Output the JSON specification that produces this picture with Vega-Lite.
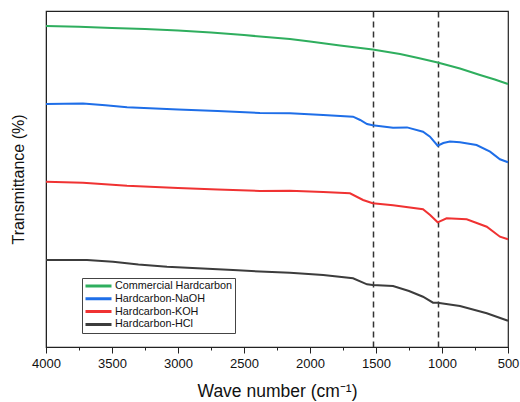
{
  "$schema": "https://vega.github.io/schema/vega-lite/v6.json",
  "width": 462,
  "height": 336,
  "autosize": {"type": "none"},
  "padding": {"left": 46, "top": 11, "right": 12, "bottom": 55},
  "view": {"stroke": "#222222", "strokeWidth": 1.2, "fill": "white"},
  "data": {"values": [
      {"wn": 4000, "t": 321, "s": "Commercial Hardcarbon"},
      {"wn": 3750, "t": 320.3, "s": "Commercial Hardcarbon"},
      {"wn": 3500, "t": 319, "s": "Commercial Hardcarbon"},
      {"wn": 3250, "t": 318, "s": "Commercial Hardcarbon"},
      {"wn": 3000, "t": 316.5, "s": "Commercial Hardcarbon"},
      {"wn": 2750, "t": 314.5, "s": "Commercial Hardcarbon"},
      {"wn": 2500, "t": 312, "s": "Commercial Hardcarbon"},
      {"wn": 2379, "t": 310.5, "s": "Commercial Hardcarbon"},
      {"wn": 2152, "t": 308, "s": "Commercial Hardcarbon"},
      {"wn": 2000, "t": 305.5, "s": "Commercial Hardcarbon"},
      {"wn": 1773, "t": 301.5, "s": "Commercial Hardcarbon"},
      {"wn": 1525, "t": 297.5, "s": "Commercial Hardcarbon"},
      {"wn": 1318, "t": 293, "s": "Commercial Hardcarbon"},
      {"wn": 1180, "t": 289, "s": "Commercial Hardcarbon"},
      {"wn": 1033, "t": 284.5, "s": "Commercial Hardcarbon"},
      {"wn": 864, "t": 278.5, "s": "Commercial Hardcarbon"},
      {"wn": 712, "t": 272, "s": "Commercial Hardcarbon"},
      {"wn": 600, "t": 267.5, "s": "Commercial Hardcarbon"},
      {"wn": 500, "t": 263, "s": "Commercial Hardcarbon"},

      {"wn": 4000, "t": 243, "s": "Hardcarbon-NaOH"},
      {"wn": 3720, "t": 243.5, "s": "Hardcarbon-NaOH"},
      {"wn": 3550, "t": 241.8, "s": "Hardcarbon-NaOH"},
      {"wn": 3386, "t": 239.7, "s": "Hardcarbon-NaOH"},
      {"wn": 3000, "t": 237.5, "s": "Hardcarbon-NaOH"},
      {"wn": 2700, "t": 236, "s": "Hardcarbon-NaOH"},
      {"wn": 2379, "t": 234, "s": "Hardcarbon-NaOH"},
      {"wn": 2152, "t": 233.7, "s": "Hardcarbon-NaOH"},
      {"wn": 1900, "t": 232, "s": "Hardcarbon-NaOH"},
      {"wn": 1674, "t": 230.3, "s": "Hardcarbon-NaOH"},
      {"wn": 1620, "t": 227, "s": "Hardcarbon-NaOH"},
      {"wn": 1568, "t": 223, "s": "Hardcarbon-NaOH"},
      {"wn": 1525, "t": 221.7, "s": "Hardcarbon-NaOH"},
      {"wn": 1371, "t": 219.3, "s": "Hardcarbon-NaOH"},
      {"wn": 1265, "t": 219.6, "s": "Hardcarbon-NaOH"},
      {"wn": 1144, "t": 215.3, "s": "Hardcarbon-NaOH"},
      {"wn": 1091, "t": 210.3, "s": "Hardcarbon-NaOH"},
      {"wn": 1033, "t": 201.3, "s": "Hardcarbon-NaOH"},
      {"wn": 990, "t": 204, "s": "Hardcarbon-NaOH"},
      {"wn": 940, "t": 205.5, "s": "Hardcarbon-NaOH"},
      {"wn": 864, "t": 204.7, "s": "Hardcarbon-NaOH"},
      {"wn": 738, "t": 202, "s": "Hardcarbon-NaOH"},
      {"wn": 636, "t": 195.3, "s": "Hardcarbon-NaOH"},
      {"wn": 561, "t": 187.7, "s": "Hardcarbon-NaOH"},
      {"wn": 500, "t": 184.7, "s": "Hardcarbon-NaOH"},

      {"wn": 4000, "t": 165.3, "s": "Hardcarbon-KOH"},
      {"wn": 3720, "t": 164.3, "s": "Hardcarbon-KOH"},
      {"wn": 3386, "t": 161.3, "s": "Hardcarbon-KOH"},
      {"wn": 3000, "t": 159, "s": "Hardcarbon-KOH"},
      {"wn": 2700, "t": 157.5, "s": "Hardcarbon-KOH"},
      {"wn": 2379, "t": 156, "s": "Hardcarbon-KOH"},
      {"wn": 2152, "t": 156.3, "s": "Hardcarbon-KOH"},
      {"wn": 1900, "t": 155, "s": "Hardcarbon-KOH"},
      {"wn": 1697, "t": 153.7, "s": "Hardcarbon-KOH"},
      {"wn": 1598, "t": 147, "s": "Hardcarbon-KOH"},
      {"wn": 1525, "t": 143.7, "s": "Hardcarbon-KOH"},
      {"wn": 1371, "t": 141.7, "s": "Hardcarbon-KOH"},
      {"wn": 1144, "t": 137.7, "s": "Hardcarbon-KOH"},
      {"wn": 1090, "t": 132, "s": "Hardcarbon-KOH"},
      {"wn": 1033, "t": 124.7, "s": "Hardcarbon-KOH"},
      {"wn": 965, "t": 128.7, "s": "Hardcarbon-KOH"},
      {"wn": 813, "t": 127.7, "s": "Hardcarbon-KOH"},
      {"wn": 661, "t": 120.3, "s": "Hardcarbon-KOH"},
      {"wn": 561, "t": 110.3, "s": "Hardcarbon-KOH"},
      {"wn": 500, "t": 107.7, "s": "Hardcarbon-KOH"},

      {"wn": 4000, "t": 87, "s": "Hardcarbon-HCl"},
      {"wn": 3689, "t": 87, "s": "Hardcarbon-HCl"},
      {"wn": 3492, "t": 85.3, "s": "Hardcarbon-HCl"},
      {"wn": 3300, "t": 82.5, "s": "Hardcarbon-HCl"},
      {"wn": 3083, "t": 80.3, "s": "Hardcarbon-HCl"},
      {"wn": 2583, "t": 77, "s": "Hardcarbon-HCl"},
      {"wn": 2379, "t": 75.5, "s": "Hardcarbon-HCl"},
      {"wn": 2152, "t": 74.3, "s": "Hardcarbon-HCl"},
      {"wn": 1900, "t": 72, "s": "Hardcarbon-HCl"},
      {"wn": 1674, "t": 68.7, "s": "Hardcarbon-HCl"},
      {"wn": 1568, "t": 62.7, "s": "Hardcarbon-HCl"},
      {"wn": 1525, "t": 62, "s": "Hardcarbon-HCl"},
      {"wn": 1371, "t": 61, "s": "Hardcarbon-HCl"},
      {"wn": 1250, "t": 56, "s": "Hardcarbon-HCl"},
      {"wn": 1144, "t": 50.3, "s": "Hardcarbon-HCl"},
      {"wn": 1068, "t": 44.3, "s": "Hardcarbon-HCl"},
      {"wn": 1033, "t": 44.3, "s": "Hardcarbon-HCl"},
      {"wn": 864, "t": 41, "s": "Hardcarbon-HCl"},
      {"wn": 661, "t": 33.7, "s": "Hardcarbon-HCl"},
      {"wn": 500, "t": 26.3, "s": "Hardcarbon-HCl"}
  ]},
  "mark": {"type": "line", "strokeWidth": 2},
  "encoding": {
    "x": {
      "field": "wn",
      "type": "quantitative",
      "scale": {"domain": [4000, 500], "nice": false, "zero": false},
      "axis": {
        "title": "Wave number (cm⁻¹)",
        "titleFont": "Liberation Sans",
        "titleFontSize": 17.5,
        "titleFontWeight": "normal",
        "titleColor": "#111111",
        "titlePadding": 12,
        "values": [4000, 3750, 3500, 3250, 3000, 2750, 2500, 2250, 2000, 1750, 1525, 1500, 1250, 1033, 1000, 750, 500],
        "labelExpr": "datum.value % 500 === 0 ? datum.value : ''",
        "labelFlush": false,
        "labelFont": "Liberation Sans",
        "labelFontSize": 13,
        "labelColor": "#111111",
        "labelPadding": 4,
        "tickSize": {"condition": {"test": "datum.value % 500 === 0", "value": 6}, "value": 3},
        "tickOpacity": {"condition": {"test": "datum.value % 250 !== 0", "value": 0}, "value": 1},
        "tickColor": "#222222",
        "domainColor": "#222222",
        "grid": true,
        "gridColor": "#333333",
        "gridDash": [6, 4],
        "gridWidth": 1.5,
        "gridOpacity": {"condition": {"test": "datum.value % 250 !== 0", "value": 1}, "value": 0},
        "labelOverlap": false
      }
    },
    "y": {
      "field": "t",
      "type": "quantitative",
      "scale": {"domain": [0, 336], "nice": false},
      "axis": {
        "title": "Transmittance (%)",
        "titleFont": "Liberation Sans",
        "titleFontSize": 16,
        "titleFontWeight": "normal",
        "titleColor": "#111111",
        "titlePadding": 20,
        "labels": false,
        "ticks": false,
        "grid": false,
        "domainColor": "#222222"
      }
    },
    "color": {
      "field": "s",
      "type": "nominal",
      "sort": ["Commercial Hardcarbon", "Hardcarbon-NaOH", "Hardcarbon-KOH", "Hardcarbon-HCl"],
      "scale": {
        "domain": ["Commercial Hardcarbon", "Hardcarbon-NaOH", "Hardcarbon-KOH", "Hardcarbon-HCl"],
        "range": ["#2fae5e", "#1e6ee8", "#f03232", "#3c3c3c"]
      },
      "legend": {
        "title": null,
        "orient": "none",
        "legendX": 36,
        "legendY": 267,
        "symbolType": "stroke",
        "symbolStrokeWidth": 3,
        "symbolSize": 676,
        "clipHeight": 12,
        "rowPadding": 0.8,
        "labelFont": "Liberation Sans",
        "labelFontSize": 10.8,
        "labelColor": "#111111",
        "labelOffset": 2,
        "padding": 2,
        "strokeColor": "#444444",
        "fillColor": "white"
      }
    }
  }
}
